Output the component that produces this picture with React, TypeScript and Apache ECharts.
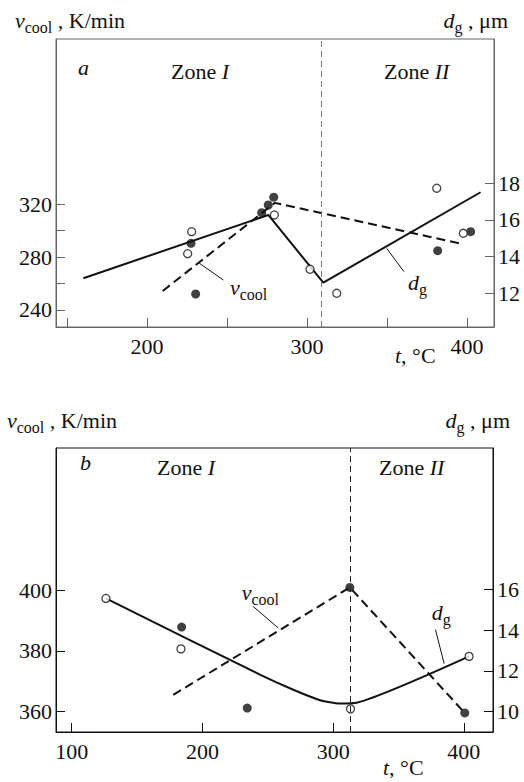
import React, { useEffect, useRef } from "react";
import * as echarts from "echarts";

// ---------- Data ----------
// Panel a
const aXTicks = [150, 200, 250, 300, 350, 400];
const aXLabels = [200, 300, 400];
const aLeftTicks = [240, 260, 280, 300, 320];
const aLeftLabels = [240, 280, 320];
const aRightTicks = [12, 14, 16, 18];
const aZoneBoundary = 309.2;
const aDgLine = [[160.2, 12.82], [275.8, 16.27], [310.2, 12.58], [408.5, 17.51]];
const aVcoolLine = [[209.8, 254.4], [279.9, 321.1], [395.2, 290.5]];
const aVcoolPoints = [[227.5, 290.5], [230.4, 252.1], [271.7, 313.7], [275.8, 319.5], [279.2, 325.4], [381.7, 284.9], [402.3, 299.3]];
const aDgPoints = [[227.9, 15.36], [225.4, 14.16], [279.6, 16.27], [301.9, 13.31], [318.6, 12.0], [381.1, 17.73], [397.7, 15.27]];
const aVcoolLeader = [[232.7, 275.4], [247.7, 262.7]];
const aDgLeader = [[349.8, 14.45], [360.6, 13.18]];

// Panel b
const bXTicks = [100, 200, 300, 400];
const bLeftTicks = [360, 380, 400];
const bRightTicks = [10, 12, 14, 16];
const bZoneBoundary = 312.8;
const bDgLine = [[126.2, 15.57], [244, 11.81], [270, 11.05], [290, 10.55], [305, 10.38], [318, 10.42], [404, 12.71]];
const bVcoolLine = [[177.7, 365.5], [312.8, 401], [400.7, 359.5]];
const bVcoolPoints = [[184.1, 387.9], [234.3, 361.1], [312.8, 401], [400.7, 359.5]];
const bDgPoints = [[126.2, 15.57], [183.6, 13.08], [313.3, 10.12], [404, 12.71]];
const bVcoolLeader = [[238.8, 394.7], [258, 387.6]];
const bDgLeader = [[378.3, 14.03], [384.9, 12.35]];

const FONT = '"Liberation Serif", "Times New Roman", Times, serif';
const MAIN = 22;
const SUB = 16;

type Part = { t: string; i?: boolean; sub?: boolean };

let measureCtx: CanvasRenderingContext2D | null = null;
function measure(t: string, size: number, italic: boolean) {
  if (!measureCtx) measureCtx = document.createElement("canvas").getContext("2d");
  if (!measureCtx) return t.length * size * 0.5;
  measureCtx.font = `${italic ? "italic " : ""}${size}px ${FONT}`;
  return measureCtx.measureText(t).width;
}

function seq(parts: Part[], x: number, baseline: number, align: "left" | "center" | "right" = "left") {
  const widths = parts.map((p) => measure(p.t, p.sub ? SUB : MAIN, !!p.i));
  const total = widths.reduce((a, b) => a + b, 0);
  let cx = align === "left" ? x : align === "center" ? x - total / 2 : x - total;
  const els: any[] = [];
  parts.forEach((p, k) => {
    const size = p.sub ? SUB : MAIN;
    const base = baseline + (p.sub ? 5 : 0);
    els.push({
      type: "text",
      x: cx,
      y: base - 0.34 * size,
      silent: true,
      style: {
        text: p.t,
        fontSize: size,
        fontStyle: p.i ? "italic" : "normal",
        fontFamily: FONT,
        fill: "#111",
        align: "left",
        verticalAlign: "middle",
      },
    });
    cx += widths[k];
  });
  return els;
}

function axisX(gridIndex: number, min: number, max: number, ticks: number[], labels: number[], color: string) {
  return {
    type: "value",
    gridIndex,
    min,
    max,
    axisLine: { show: true, lineStyle: { color, width: 1 } },
    axisTick: { show: true, inside: true, length: 9, customValues: ticks, lineStyle: { color, width: 1 } },
    axisLabel: { show: true, customValues: labels, margin: 8, fontSize: MAIN, fontFamily: FONT, color: "#111" },
    splitLine: { show: false },
  };
}

function axisY(gridIndex: number, position: string, min: number, max: number, ticks: number[], labels: number[], color: string) {
  return {
    type: "value",
    gridIndex,
    position,
    min,
    max,
    axisLine: { show: true, onZero: false, lineStyle: { color, width: 1 } },
    axisTick: { show: true, inside: true, length: 9, customValues: ticks, lineStyle: { color, width: 1 } },
    axisLabel: { show: true, customValues: labels, margin: 4, fontSize: MAIN, fontFamily: FONT, color: "#111" },
    splitLine: { show: false },
  };
}

const solid = { color: "#111", width: 2, type: "solid" };
const dashed = { color: "#111", width: 2, type: [9, 5] };

function lineSeries(x: number, y: number, data: number[][], style: any, extra: any = {}) {
  return {
    type: "line",
    xAxisIndex: x,
    yAxisIndex: y,
    data,
    symbol: "none",
    lineStyle: style,
    silent: true,
    z: 2,
    ...extra,
  };
}

function pts(x: number, y: number, data: number[][], filled: boolean) {
  return {
    type: "scatter",
    xAxisIndex: x,
    yAxisIndex: y,
    data,
    symbol: "circle",
    symbolSize: filled ? 9 : 8,
    itemStyle: filled
      ? { color: "#111", borderWidth: 0 }
      : { color: "#fff", borderColor: "#111", borderWidth: 1.3 },
    silent: true,
    z: 4,
  };
}

export default function App() {
  const ref = useRef<HTMLDivElement>(null);
  useEffect(() => {
    if (!ref.current) return;
    const chart = echarts.init(ref.current, undefined, { renderer: "svg" });
    const aColor = "#666";
    const bColor = "#111";
    const graphics: any[] = [
      // panel a
      ...seq([{ t: "v", i: true }, { t: "cool", sub: true }, { t: " , K/min" }], 15, 28),
      ...seq([{ t: "d", i: true }, { t: "g", sub: true }, { t: " , μm" }], 508, 28, "right"),
      ...seq([{ t: "a", i: true }], 78, 75),
      ...seq([{ t: "Zone " }, { t: "I", i: true }], 200, 79, "center"),
      ...seq([{ t: "Zone " }, { t: "II", i: true }], 416.7, 79, "center"),
      ...seq([{ t: "t", i: true }, { t: ", °C" }], 395, 363),
      ...seq([{ t: "v", i: true }, { t: "cool", sub: true }], 230, 295),
      ...seq([{ t: "d", i: true }, { t: "g", sub: true }], 408, 290),
      // panel b
      ...seq([{ t: "v", i: true }, { t: "cool", sub: true }, { t: " , K/min" }], 7, 428),
      ...seq([{ t: "d", i: true }, { t: "g", sub: true }, { t: " , μm" }], 510, 428, "right"),
      ...seq([{ t: "b", i: true }], 80, 470),
      ...seq([{ t: "Zone " }, { t: "I", i: true }], 186, 475, "center"),
      ...seq([{ t: "Zone " }, { t: "II", i: true }], 411.7, 475, "center"),
      ...seq([{ t: "t", i: true }, { t: ", °C" }], 383, 775),
      ...seq([{ t: "v", i: true }, { t: "cool", sub: true }], 241.7, 600),
      ...seq([{ t: "d", i: true }, { t: "g", sub: true }], 431.7, 620),
    ];

    const option: any = {
      animation: false,
      backgroundColor: "#fff",
      grid: [
        { left: 56, top: 39, width: 438, height: 288, show: true, borderColor: aColor, borderWidth: 1, backgroundColor: "transparent" },
        { left: 56, top: 448, width: 437, height: 284, show: true, borderColor: bColor, borderWidth: 1, backgroundColor: "transparent" },
      ],
      xAxis: [
        axisX(0, 143.1, 416.9, aXTicks, aXLabels, aColor),
        axisX(1, 88, 422.3, bXTicks, bXTicks, bColor),
      ],
      yAxis: [
        axisY(0, "left", 227.1, 445.2, aLeftTicks, aLeftLabels, aColor),
        axisY(0, "right", 10.16, 25.87, aRightTicks, aRightTicks, aColor),
        axisY(1, "left", 353.2, 447.1, bLeftTicks, bLeftTicks, bColor),
        axisY(1, "right", 8.98, 22.99, bRightTicks, bRightTicks, bColor),
      ],
      series: [
        lineSeries(0, 1, aDgLine, solid),
        lineSeries(0, 0, aVcoolLine, dashed, {
          markLine: {
            silent: true,
            symbol: ["none", "none"],
            label: { show: false },
            lineStyle: { color: "#777", width: 1, type: [6, 4] },
            data: [{ xAxis: aZoneBoundary }],
          },
        }),
        lineSeries(0, 0, aVcoolLeader, { color: "#111", width: 1, type: "solid" }),
        lineSeries(0, 1, aDgLeader, { color: "#111", width: 1, type: "solid" }),
        pts(0, 0, aVcoolPoints, true),
        pts(0, 1, aDgPoints, false),

        lineSeries(1, 3, bDgLine, solid, { smooth: 0.2 }),
        lineSeries(1, 2, bVcoolLine, dashed, {
          markLine: {
            silent: true,
            symbol: ["none", "none"],
            label: { show: false },
            lineStyle: { color: "#222", width: 1, type: [6, 4] },
            data: [{ xAxis: bZoneBoundary }],
          },
        }),
        lineSeries(1, 2, bVcoolLeader, { color: "#111", width: 1, type: "solid" }),
        lineSeries(1, 3, bDgLeader, { color: "#111", width: 1, type: "solid" }),
        pts(1, 2, bVcoolPoints, true),
        pts(1, 3, bDgPoints, false),
      ],
      graphic: graphics,
    };
    chart.setOption(option);
    return () => chart.dispose();
  }, []);
  return (
    <div
      ref={ref}
      style={{ position: "absolute", left: 0, top: 0, width: 524, height: 782, background: "#fff" }}
    />
  );
}
